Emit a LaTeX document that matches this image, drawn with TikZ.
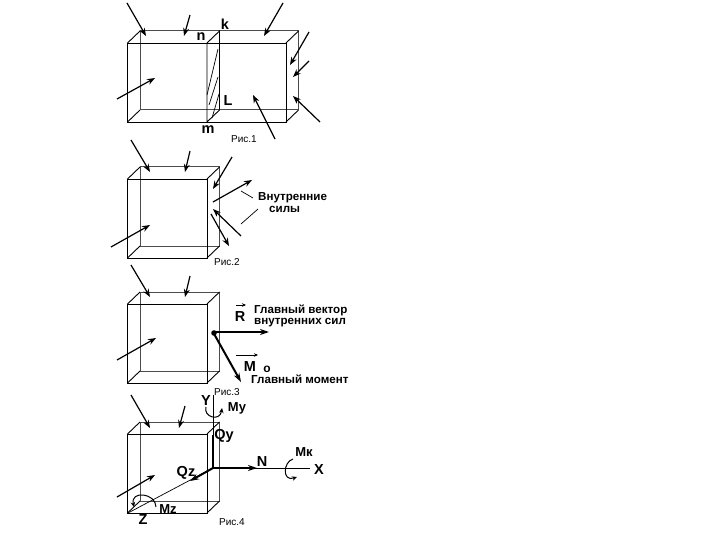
\documentclass[tikz,border=0pt]{standalone}
\usepackage{fontspec}
\setmainfont{Liberation Sans}
\usetikzlibrary{arrows.meta}
\tikzset{
  x=1pt,y=-1pt,
  edge/.style={draw=black,line width=0.9pt},
  backedge/.style={draw=black!70,line width=1pt},
  force/.style={draw=black,line width=1.2pt,-{Stealth[length=8pt,width=6pt]}},
  heavy/.style={draw=black,line width=2pt},
  heavyarrow/.style={draw=black,line width=2pt,-{Stealth[length=9pt,width=6pt]}},
  thinline/.style={draw=black,line width=0.7pt},
  curl/.style={draw=black,line width=1pt,-{Stealth[length=5pt,width=4.5pt]}},
  figcap/.style={font=\fontsize{10}{10}\selectfont,inner sep=0pt},
  lab/.style={font=\fontsize{14.5}{14}\selectfont\bfseries,inner sep=0pt},
  lab small/.style={font=\fontsize{13}{13}\selectfont\bfseries,inner sep=0pt},
  note/.style={font=\fontsize{11.6}{12}\selectfont\bfseries,inner sep=0pt,anchor=west},
}
\newcommand{\boxpic}[4]{%
  \draw[backedge] (#1+12.5,#2-12) rectangle (#3+12.5,#4-12);
  \draw[edge] (#1,#2) rectangle (#3,#4);
  \draw[edge] (#1,#2) -- (#1+12.5,#2-12) (#3,#2) -- (#3+12.5,#2-12)
              (#1,#4) -- (#1+12.5,#4-12) (#3,#4) -- (#3+12.5,#4-12);
}
\begin{document}
\begin{tikzpicture}
\useasboundingbox (0,0) rectangle (720,540);
\fill[white] (0,0) rectangle (720,540);
% Fig 1
\boxpic{127.5}{43}{286}{122}
\draw[edge] (207,43) -- (207,122) (207,43) -- (219.5,31) -- (219.5,110) -- (207,122);
\draw[thinline] (207,95) -- (218,49) (209,105) -- (218,77) (212,118) -- (219,94);
\draw[force] (127,3) -- (146,36);
\draw[force] (190,15) -- (184,36);
\draw[force] (283,3) -- (264,36);
\draw[force] (309,32) -- (290,65);
\draw[force] (309,61) -- (293,77);
\draw[force] (320,122) -- (293,96);
\draw[force] (275,139) -- (253,95);
\draw[force] (117,99) -- (155,78);
\node[lab] (k) at (225,24) {k};
\node[lab] (n) at (201,37) {n};
\node[lab] (L) at (228,101) {L};
\node[lab] (m) at (208,130) {m};
\node[figcap] (c1) at (244,139) {Рис.1};
% Fig 2
\boxpic{127.5}{179}{207}{258}
\draw[force] (131,140) -- (150,172);
\draw[force] (190,151) -- (185,172);
\draw[force] (232,157) -- (213,189);
\draw[force] (213,202) -- (252,180);
\draw[force] (241,236) -- (213,209);
\draw[force] (211,214) -- (229,246);
\draw[force] (111,247) -- (150,225);
\node[note] (v1) at (258,198) {Внутренние};
\node[note] (v2) at (269,209) {силы};
\coordinate (t1) at (241,191);
\coordinate (t2) at (241,224);
\coordinate (t3) at (253,198);
\coordinate (t4) at (258,209);
\draw[thinline] (t1) -- (t3);
\draw[thinline] (t2) -- (t4);
\node[figcap] (c2) at (227,262) {Рис.2};
% Fig 3
\boxpic{127.5}{304}{207}{383}
\draw[force] (131,265) -- (150,297);
\draw[force] (190,276) -- (185,297);
\draw[force] (117,360) -- (156,338);
\fill (214,333) circle (2.8pt);
\draw[heavyarrow] (213,332) -- (269,332);
\draw[heavyarrow] (213,332) -- (241,382);
\draw[thinline,-{Stealth[length=4pt,width=3.5pt]}] (236,305) -- (246,305);
\node[lab] (R) at (240,317) {R};
\node[note] (g1) at (254,310) {Главный вектор};
\node[note] (g2) at (254,323) {внутренних сил};
\draw[thinline,-{Stealth[length=4pt,width=3.5pt]}] (236,355) -- (258,355);
\node[lab] (M) at (250,367) {M};
\node[font=\fontsize{12}{12}\selectfont\bfseries,inner sep=0pt] (o) at (267,369) {о};
\node[note] (g3) at (251,379) {Главный момент};
\node[figcap] (c3) at (227,392) {Рис.3};
% Fig 4
\boxpic{127.5}{434}{207}{513}
\draw[force] (131,395) -- (150,428);
\draw[force] (185,406) -- (179,428);
\draw[force] (117,497) -- (155,475);
\coordinate (O) at (213,468);
\coordinate (Yend) at (213,395);
\coordinate (Xend) at (310,468);
\coordinate (Zend) at (128,513);
\draw[thinline] (O) -- (Yend);
\draw[thinline] (O) -- (Xend);
\draw[thinline] (O) -- (Zend);
\draw[heavy] (O) -- (213,435);
\draw[heavyarrow] (O) -- (257,468);
\draw[heavyarrow] (O) -- (190,481);
\draw[curl] (206,407) .. controls (203,417) and (220,422) .. (222,408);
\draw[curl] (293,459) .. controls (283,462) and (282,482) .. (297,477);
\draw[curl] (156,507) .. controls (156,493) and (130,490) .. (134,507);
\node[lab] (Y) at (206,401) {Y};
\node[lab small] (My) at (237,408) {Mу};
\node[lab] (Qy) at (224,436) {Qу};
\node[lab] (Qz) at (186,473) {Qz};
\node[lab] (N) at (262,462) {N};
\node[lab small] (Mk) at (304,452) {Мк};
\node[lab] (X) at (319,470) {X};
\node[lab small] (Mz) at (168,509) {Mz};
\node[lab] (Z) at (143,520) {Z};
\node[figcap] (c4) at (232,522) {Рис.4};
\end{tikzpicture}
\end{document}
